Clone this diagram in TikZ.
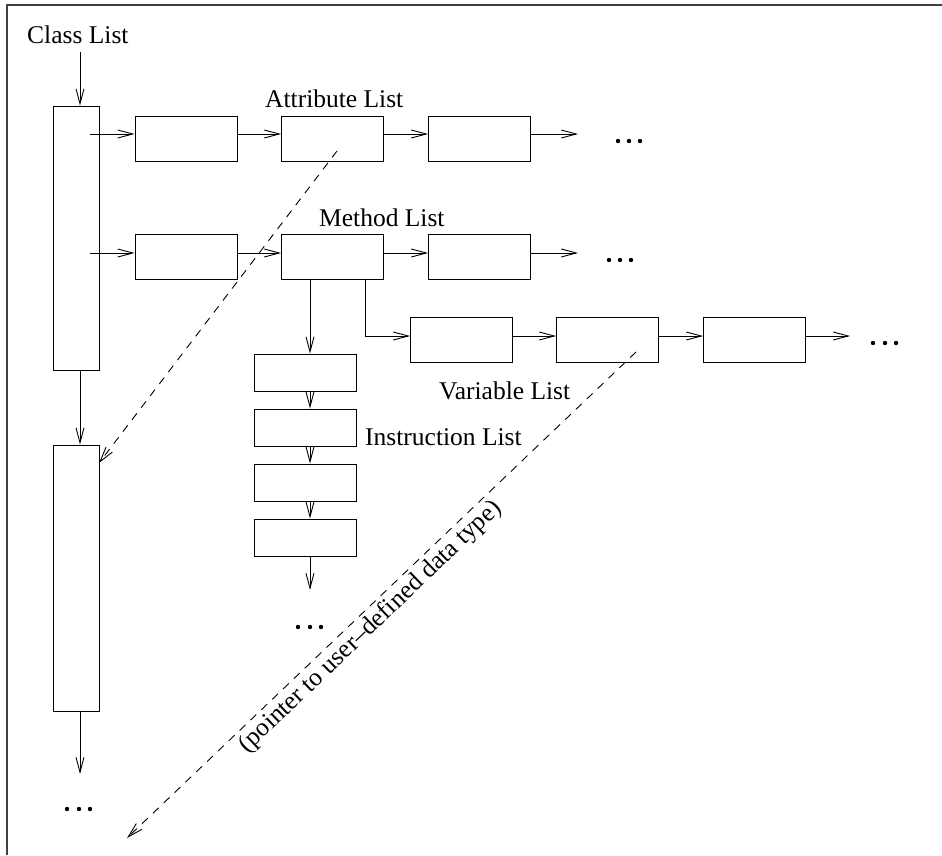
\documentclass[tikz,border=0pt]{standalone}
\usepackage{fontspec}
\setmainfont{Liberation Serif}
\usetikzlibrary{arrows.meta}
\begin{document}
\begin{tikzpicture}[x=1pt,y=-1pt,
  box/.style={draw, line width=0.9pt, inner sep=0pt, minimum width=102pt, minimum height=45pt},
  ibox/.style={box, minimum height=37pt},
  cbox/.style={box, minimum width=46pt},
  lbl/.style={font=\fontsize{25.5}{30}\selectfont, inner sep=0pt, anchor=base west},
  arr/.style={line width=0.9pt, -{Straight Barb[length=15pt,width=8pt,line width=0.9pt]}},
  darr/.style={arr, dash pattern=on 8pt off 7pt},
  dotf/.style={fill=black}]
\useasboundingbox (0,0) rectangle (942,855);
% frame
\coordinate (fbl) at (7,855);
\coordinate (ftl) at (7,5);
\coordinate (ftr) at (942,5);
\draw[line width=1.3pt, black!75] (fbl) -- (ftl) -- (ftr);

% labels
\node[lbl] (tcl) at (27,43) {Class List};
\node[lbl] (tat) at (265,107) {Attribute List};
\node[lbl] (tme) at (319,226) {Method List};
\node[lbl] (tva) at (439,399) {Variable List};
\node[lbl] (tin) at (365,445) {Instruction List};

% class boxes
\node[cbox, minimum height=264pt] (c1) at (76,238) {};
\node[cbox, minimum height=266pt] (c2) at (76,578) {};

% attribute row
\node[box] (a1) at (186,138.5) {};
\node[box] (a2) at (332.5,138.5) {};
\node[box] (a3) at (479.5,138.5) {};
% method row
\node[box] (m1) at (186,257) {};
\node[box] (m2) at (332.5,257) {};
\node[box] (m3) at (479.5,257) {};
% variable row
\node[box] (v1) at (461.5,340) {};
\node[box] (v2) at (607.5,340) {};
\node[box] (v3) at (754.5,340) {};
% instruction column
\node[ibox] (i1) at (305,372.5) {};
\node[ibox] (i2) at (305,427.5) {};
\node[ibox] (i3) at (305,482.5) {};
\node[ibox] (i4) at (305,537.5) {};

% class list arrows
\coordinate (cl) at (80,52);
\coordinate (c2e) at (80,774);
\draw[arr] (cl) -- (cl |- c1.north);
\draw[arr] (c1.south -| cl) -- (c2.north -| cl);
\draw[arr] (c2.south -| cl) -- (c2e);

% attribute row arrows
\coordinate (r1) at (90,134);
\coordinate (r1e) at (578,134);
\draw[arr] (r1) -- (r1 -| a1.west);
\draw[arr] (a1.east |- r1) -- (a2.west |- r1);
\draw[arr] (a2.east |- r1) -- (a3.west |- r1);
\draw[arr] (a3.east |- r1) -- (r1e);

% method row arrows
\coordinate (r2) at (90,253);
\coordinate (r2e) at (578,253);
\draw[arr] (r2) -- (r2 -| m1.west);
\draw[arr] (m1.east |- r2) -- (m2.west |- r2);
\draw[arr] (m2.east |- r2) -- (m3.west |- r2);
\draw[arr] (m3.east |- r2) -- (r2e);

% instruction arrows
\coordinate (ie) at (310,590);
\draw[arr] (m2.south -| ie) -- (i1.north -| ie);
\draw[arr] (i1.south -| ie) -- (i2.north -| ie);
\draw[arr] (i2.south -| ie) -- (i3.north -| ie);
\draw[arr] (i3.south -| ie) -- (i4.north -| ie);
\draw[arr] (i4.south -| ie) -- (ie);

% variable arrows
\coordinate (vx) at (365,336);
\coordinate (ve) at (850,336);
\draw[arr] (m2.south -| vx) |- (v1.west |- vx);
\draw[arr] (v1.east |- vx) -- (v2.west |- vx);
\draw[arr] (v2.east |- vx) -- (v3.west |- vx);
\draw[arr] (v3.east |- vx) -- (ve);

% dashed pointers
\coordinate (d1s) at (337,151);
\coordinate (d1e) at (99,463);
\draw[darr] (d1s) -- (d1e);
\coordinate (d2s) at (636,352);
\coordinate (d2e) at (127,838);
\draw[darr] (d2s) -- (d2e);
\node[lbl, anchor=base, rotate=43.7] (ptr) at (375,631.5) {(pointer to user--defined data type)};

% ellipses
\foreach \x in {618,629,640} \fill[dotf] (\x,141) circle (2.2pt);
\foreach \x in {609,620,631} \fill[dotf] (\x,260) circle (2.2pt);
\foreach \x in {873,885,896} \fill[dotf] (\x,343) circle (2.2pt);
\foreach \x in {67,79,90} \fill[dotf] (\x,809) circle (2.2pt);
\foreach \x in {298,310,321} \fill[dotf] (\x,627) circle (2.2pt);
\end{tikzpicture}
\end{document}
